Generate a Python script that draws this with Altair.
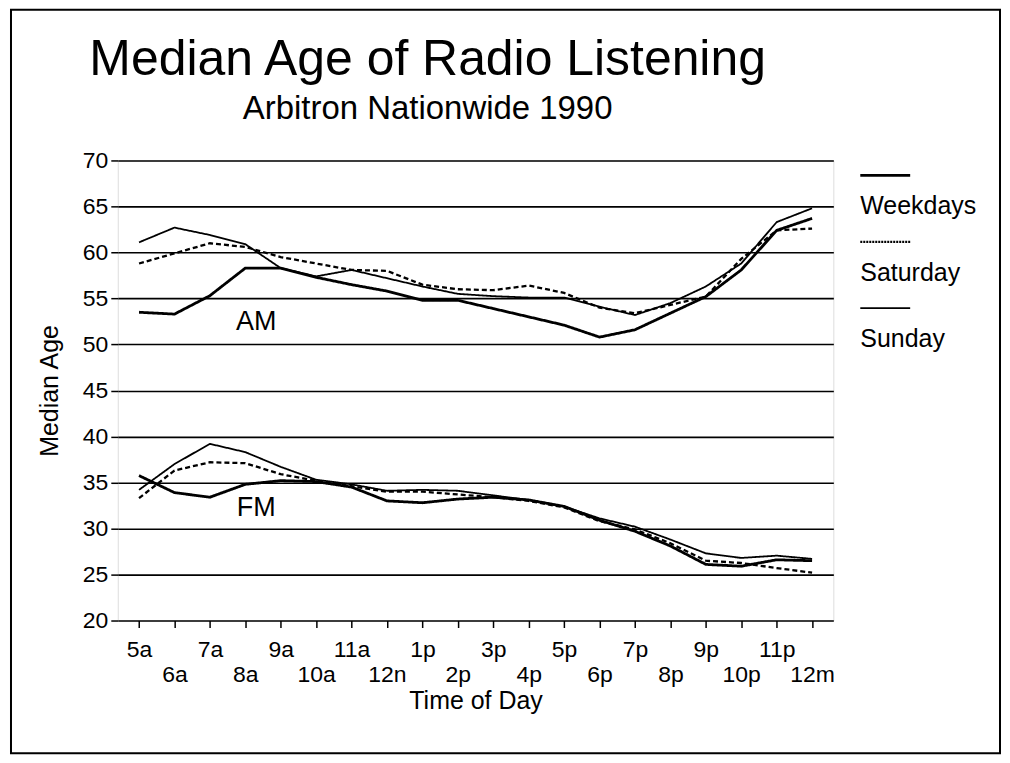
import json
import altair as alt
import pandas as pd

# ---------------- data ----------------
times = ["5a", "6a", "7a", "8a", "9a", "10a", "11a", "12n", "1p", "2p",
         "3p", "4p", "5p", "6p", "7p", "8p", "9p", "10p", "11p", "12m"]
series_names = ["Weekdays", "Saturday", "Sunday"]

am_weekdays = [53.5, 53.3, 55.3, 58.3, 58.3, 57.3, 56.5, 55.8, 54.8, 54.8,
               53.9, 53.0, 52.1, 50.8, 51.6, 53.4, 55.2, 58.1, 62.4, 63.7]
am_saturday = [58.8, 59.9, 61.0, 60.6, 59.5, 58.8, 58.1, 58.0, 56.5, 56.0,
               55.9, 56.4, 55.6, 54.0, 53.4, 54.3, 55.2, 59.3, 62.4, 62.6]
am_sunday = [61.1, 62.7, 61.9, 60.9, 58.3, 57.4, 58.1, 57.2, 56.3, 55.5,
             55.25, 55.1, 55.1, 54.1, 53.2, 54.5, 56.3, 58.8, 63.3, 64.8]

fm_weekdays = [35.75, 33.9, 33.4, 34.8, 35.2, 35.1, 34.5, 33.0, 32.8, 33.2,
               33.4, 33.1, 32.4, 30.9, 29.7, 28.1, 26.1, 25.9, 26.6, 26.5]
fm_saturday = [33.3, 36.3, 37.2, 37.1, 35.9, 35.2, 34.6, 34.0, 34.0, 33.7,
               33.4, 33.0, 32.3, 30.8, 29.9, 28.4, 26.5, 26.25, 25.7, 25.2]
fm_sunday = [34.2, 37.0, 39.2, 38.3, 36.7, 35.3, 34.8, 34.1, 34.2, 34.1,
             33.6, 33.1, 32.4, 31.1, 30.2, 28.8, 27.3, 26.8, 27.05, 26.7]

band_labels = ["AM", "FM"]
band_label_time = ["8a", "8a"]
band_label_value = [52.45, 32.25]

y_ticks = [20, 25, 30, 35, 40, 45, 50, 55, 60, 65, 70]

# ---------------- tables ----------------
series_data = {
    "AM": {"Weekdays": am_weekdays, "Saturday": am_saturday, "Sunday": am_sunday},
    "FM": {"Weekdays": fm_weekdays, "Saturday": fm_saturday, "Sunday": fm_sunday},
}
rows = []
for band, d in series_data.items():
    for s in series_names:
        for t, v in zip(times, d[s]):
            rows.append({"time": t, "band": band, "series": s, "value": v})
df = pd.DataFrame(rows)

ann_df = pd.DataFrame({"label": band_labels, "time": band_label_time,
                       "value": band_label_value})
legend_df = pd.DataFrame({"series": series_names})
frame_df = pd.DataFrame({"k": [0]})

FONT = "Liberation Sans"
W, H = 717, 461

dash_scale = alt.Scale(domain=series_names, range=[[1, 0], [5, 3], [1, 0]])
width_scale = alt.Scale(domain=series_names, range=[2.8, 1.8, 1.8])
legend_dash_scale = alt.Scale(domain=series_names, range=[[1, 0], [2, 1], [1, 0]])

lower_row = json.dumps(times[1::2])
label_expr = f"indexof({lower_row}, datum.value) >= 0 ? ['', datum.value] : datum.value"

x_enc = alt.X(
    "time:N", sort=times,
    scale=alt.Scale(type="point", padding=0.6),
    axis=alt.Axis(
        title="Time of Day", titleFontSize=25, titleFont=FONT,
        titleFontWeight="normal", titleColor="black", titlePadding=2,
        labelFontSize=23, labelFont=FONT, labelColor="black", labelAngle=0,
        labelExpr=label_expr, labelLineHeight=25, labelOverlap=False,
        labelPadding=11, labelBound=False,
        tickSize=7, tickColor="black", tickWidth=1.5,
        domain=False, grid=False,
    ),
)

y_scale = alt.Scale(domain=[20, 70], nice=False, zero=False)

lines = alt.Chart(df).mark_line(color="black").encode(
    x=x_enc,
    y=alt.Y(
        "value:Q", scale=y_scale,
        axis=alt.Axis(
            values=y_ticks, title="Median Age", titleFontSize=25, titleFont=FONT,
            titleFontWeight="normal", titleColor="black", titlePadding=20,
            labelFontSize=23, labelFont=FONT, labelColor="black", labelPadding=3,
            tickSize=7, tickColor="black", tickWidth=1.5,
            grid=True, gridColor="black", gridWidth=1.6, gridOpacity=1,
            domain=False,
        ),
    ),
    detail="band:N",
    strokeDash=alt.StrokeDash("series:N", scale=dash_scale, legend=None),
    strokeWidth=alt.StrokeWidth("series:N", scale=width_scale, legend=None),
)

ann = alt.Chart(ann_df).mark_text(
    font=FONT, fontSize=27, color="black", align="center", baseline="middle", dx=11
).encode(
    x=alt.X("time:N", sort=times),
    y=alt.Y("value:Q", scale=y_scale, axis=None),
    text="label:N",
)

leg_y = alt.Y("series:N", sort=series_names,
              scale=alt.Scale(type="point", domain=series_names, range=[15, 148],
                              padding=0),
              axis=None)

leg_rule = alt.Chart(legend_df).mark_rule(color="black").encode(
    x=alt.value(744), x2=alt.value(794),
    y=leg_y,
    strokeDash=alt.StrokeDash("series:N", scale=legend_dash_scale, legend=None),
    strokeWidth=alt.StrokeWidth("series:N", scale=width_scale, legend=None),
)

leg_text = alt.Chart(legend_df).mark_text(
    font=FONT, fontSize=25, color="black", align="left", baseline="alphabetic", dy=39
).encode(
    x=alt.value(744),
    y=leg_y,
    text="series:N",
)

frame = alt.Chart(frame_df).mark_rect(fill=None, stroke="black", strokeWidth=2).encode(
    x=alt.value(-107), x2=alt.value(884), y=alt.value(-151), y2=alt.value(594),
)

chart = alt.layer(lines, ann, leg_rule, leg_text, frame).resolve_scale(
    y="independent", strokeDash="independent"
).properties(
    width=W, height=H,
    autosize=alt.AutoSizeParams(type="none"),
    padding={"left": 110, "top": 152, "right": 169, "bottom": 134},
    title=alt.TitleParams(
        text="Median Age of Radio Listening",
        subtitle="Arbitron Nationwide 1990",
        font=FONT, fontSize=50, fontWeight="normal", color="black",
        subtitleFont=FONT, subtitleFontSize=33, subtitleColor="black",
        subtitlePadding=8, anchor="middle", frame="group", dx=-48, offset=-117,
    ),
).configure_view(stroke="black", strokeWidth=2).configure(background="white")

chart.save("out.html", embed_options={"renderer": "svg", "actions": False})
